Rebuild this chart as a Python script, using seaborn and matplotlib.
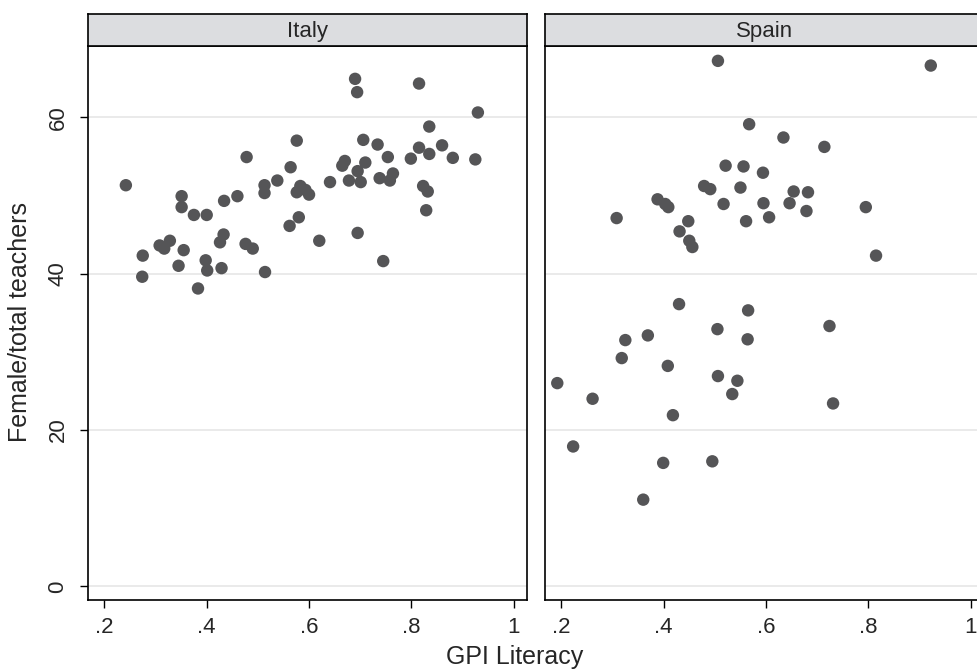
import matplotlib
matplotlib.use("Agg")
import matplotlib.pyplot as plt
import seaborn as sns
import pandas as pd

sns.set_style("white")
plt.rcParams['font.family'] = ['Liberation Sans', 'DejaVu Sans']

countries = ["Italy", "Spain"]

italy_gpi = [0.242, 0.275, 0.274, 0.308, 0.317, 0.328, 0.345, 0.351, 0.351, 0.355,
             0.375, 0.383, 0.398, 0.400, 0.401, 0.429, 0.426, 0.433, 0.434, 0.460,
             0.476, 0.478, 0.490, 0.513, 0.513, 0.514, 0.538, 0.562, 0.564, 0.576,
             0.580, 0.583, 0.593, 0.576, 0.600, 0.620, 0.641, 0.665, 0.670, 0.678,
             0.690, 0.694, 0.695, 0.701, 0.695, 0.706, 0.710, 0.734, 0.738, 0.745,
             0.754, 0.758, 0.764, 0.799, 0.815, 0.815, 0.823, 0.832, 0.829, 0.835,
             0.835, 0.860, 0.881, 0.925, 0.930]
italy_share = [51.3, 42.3, 39.6, 43.6, 43.2, 44.2, 41.0, 49.9, 48.5, 43.0,
               47.5, 38.1, 41.7, 47.5, 40.4, 40.7, 44.0, 45.0, 49.3, 49.9,
               43.8, 54.9, 43.2, 51.3, 50.3, 40.2, 51.9, 46.1, 53.6, 57.0,
               47.2, 51.2, 50.7, 50.4, 50.1, 44.2, 51.7, 53.8, 54.4, 51.9,
               64.9, 63.2, 53.1, 51.7, 45.2, 57.1, 54.2, 56.5, 52.2, 41.6,
               54.9, 51.9, 52.8, 54.7, 64.3, 56.1, 51.2, 50.5, 48.1, 58.8,
               55.3, 56.4, 54.8, 54.6, 60.6]

spain_gpi = [0.506, 0.567, 0.521, 0.556, 0.594, 0.479, 0.491, 0.550, 0.517, 0.595,
             0.388, 0.403, 0.409, 0.308, 0.448, 0.561, 0.431, 0.450, 0.456, 0.922,
             0.634, 0.714, 0.654, 0.682, 0.646, 0.679, 0.606, 0.795, 0.815,
             0.430, 0.565, 0.505, 0.564, 0.325, 0.369, 0.318, 0.408, 0.192, 0.261,
             0.506, 0.544, 0.534, 0.418, 0.223, 0.399, 0.495, 0.360, 0.724, 0.731]
spain_share = [67.2, 59.1, 53.8, 53.7, 52.9, 51.2, 50.8, 51.0, 48.9, 49.0,
               49.5, 48.9, 48.5, 47.1, 46.7, 46.7, 45.4, 44.2, 43.4, 66.6,
               57.4, 56.2, 50.5, 50.4, 49.0, 48.0, 47.2, 48.5, 42.3,
               36.1, 35.3, 32.9, 31.6, 31.5, 32.1, 29.2, 28.2, 26.0, 24.0,
               26.9, 26.3, 24.6, 21.9, 17.9, 15.8, 16.0, 11.1, 33.3, 23.4]

x_ticks = [0.2, 0.4, 0.6, 0.8, 1.0]
x_ticklabels = [".2", ".4", ".6", ".8", "1"]
y_ticks = [0, 20, 40, 60]
y_ticklabels = ["0", "20", "40", "60"]

df = pd.DataFrame({
    "country": ["Italy"] * len(italy_gpi) + ["Spain"] * len(spain_gpi),
    "gpi": italy_gpi + spain_gpi,
    "share": italy_share + spain_share,
})

W, H = 977, 671
fig = plt.figure(figsize=(W / 100, H / 100), dpi=100)

lefts = [88, 545]
pw = 439
top_px, bot_px = 46, 600
strip_top = 14

dot_color = "#555557"
for i, (c, lp) in enumerate(zip(countries, lefts)):
    ax = fig.add_axes([lp / W, (H - bot_px) / H, pw / W, (bot_px - top_px) / H])
    sub = df[df["country"] == c]
    sns.scatterplot(data=sub, x="gpi", y="share", ax=ax, s=80, color=dot_color,
                    edgecolor="none", linewidth=0, zorder=3)
    ax.set_xlim(0.168, 1.026)
    ax.set_ylim(-1.73, 69.1)
    for yv in y_ticks:
        ax.axhline(yv, color="#e6e6e6", lw=1.2, zorder=1)
    ax.set_xticks(x_ticks)
    ax.set_xticklabels(x_ticklabels, fontsize=16)
    ax.set_xlabel("")
    ax.set_ylabel("")
    ax.tick_params(axis="x", direction="out", length=6, width=1, color="black", pad=6,
                   bottom=True)
    if i == 0:
        ax.set_yticks(y_ticks)
        ax.set_yticklabels(y_ticklabels, fontsize=16, rotation=90, va="center")
        ax.tick_params(axis="y", direction="out", length=6, width=1, color="black",
                       left=True, pad=8)
    else:
        ax.set_yticks(y_ticks)
        ax.set_yticklabels([])
        ax.tick_params(axis="y", length=0, left=False)
    for sp in ax.spines.values():
        sp.set_visible(True)
        sp.set_color("black")
        sp.set_linewidth(1.2)
    # strip
    sax = fig.add_axes([lp / W, (H - top_px) / H, pw / W, (top_px - strip_top) / H])
    sax.set_facecolor("#dcdde0")
    sax.set_xticks([])
    sax.set_yticks([])
    for sp in sax.spines.values():
        sp.set_visible(True)
        sp.set_color("black")
        sp.set_linewidth(1.2)
    sax.text(0.5, 0.45, c, ha="center", va="center", fontsize=16, transform=sax.transAxes)

fig.text(515 / W, 1 - 657 / H, "GPI Literacy", ha="center", va="center", fontsize=18)
fig.text(20 / W, 1 - 322 / H, "Female/total teachers", ha="center", va="center",
         fontsize=18, rotation=90)

fig.savefig("out.png", dpi=100)
